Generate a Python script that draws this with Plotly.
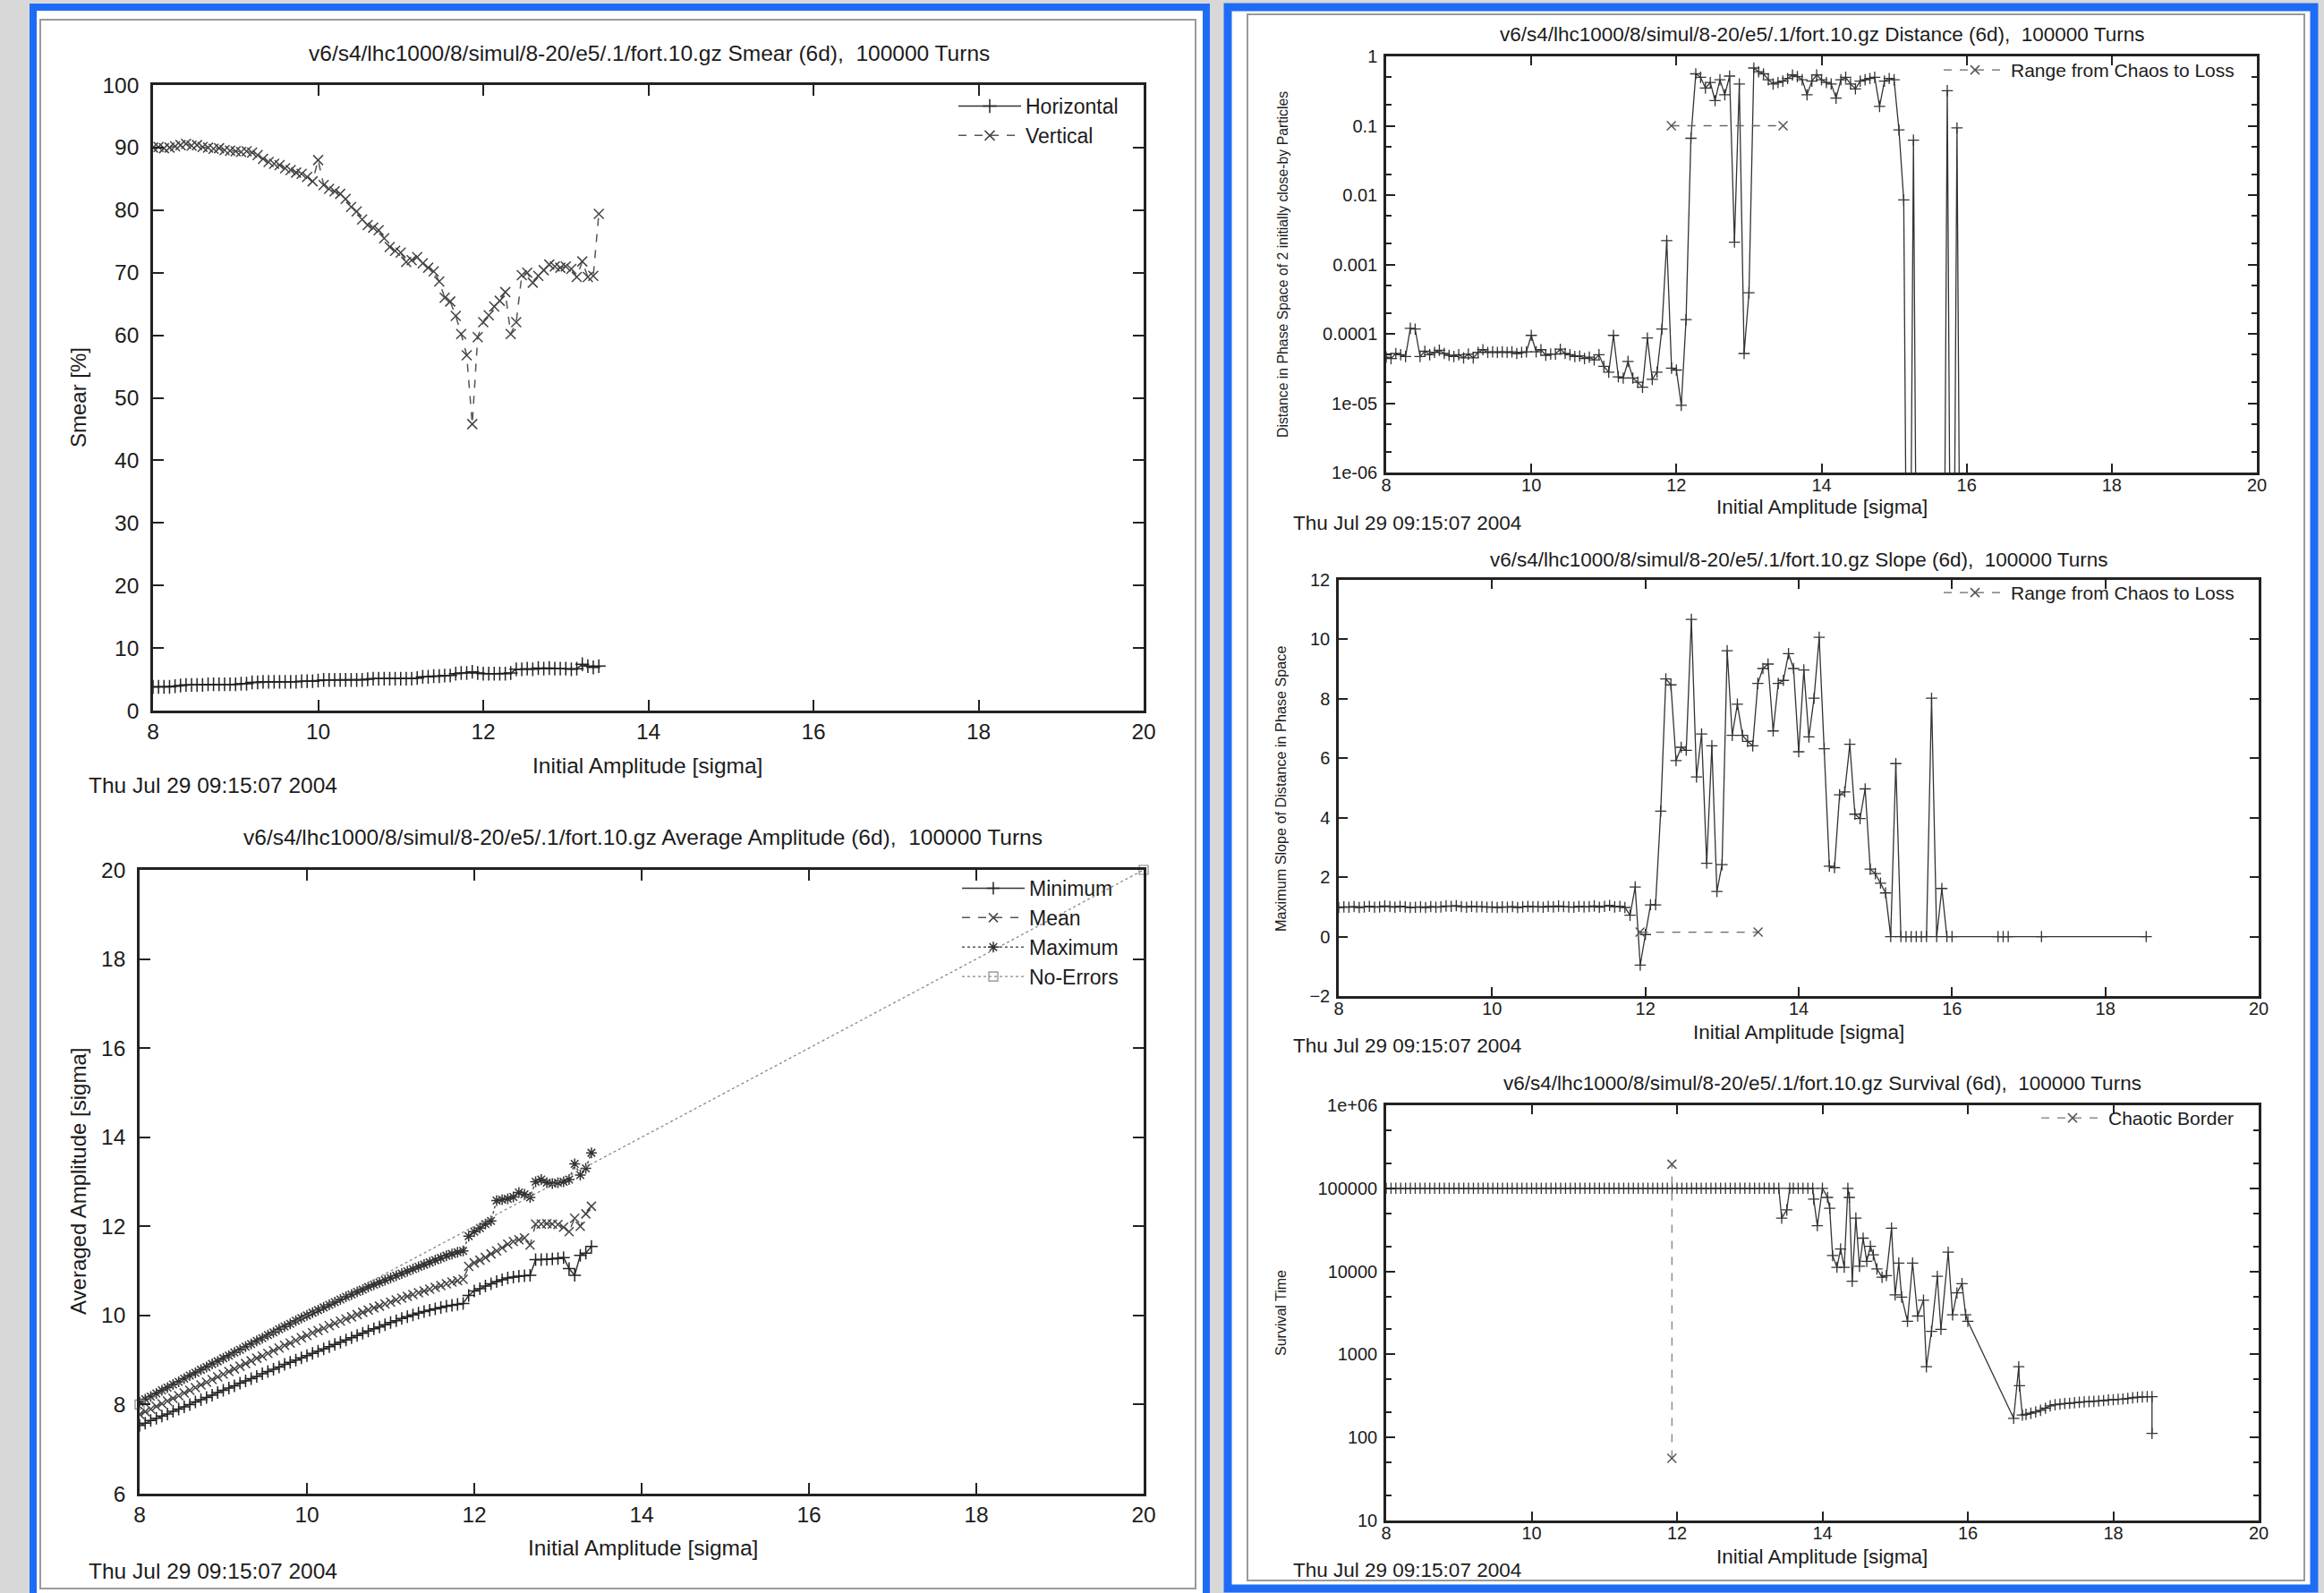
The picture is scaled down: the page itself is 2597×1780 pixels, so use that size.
import plotly.graph_objects as go

W, H = 2597, 1780
FONT = "Liberation Sans, Arial, sans-serif"
INK = "#1c1c1c"
BLUE = "#1e6cf5"

# ---------------- data ----------------
AMP = [8.0, 8.067, 8.133, 8.2, 8.267, 8.333, 8.4, 8.467, 8.533, 8.6, 8.667, 8.733, 8.8, 8.867, 8.933,
       9.0, 9.067, 9.133, 9.2, 9.267, 9.333, 9.4, 9.467, 9.533, 9.6, 9.667, 9.733, 9.8, 9.867, 9.933,
       10.0, 10.067, 10.133, 10.2, 10.267, 10.333, 10.4, 10.467, 10.533, 10.6, 10.667, 10.733, 10.8, 10.867, 10.933,
       11.0, 11.067, 11.133, 11.2, 11.267, 11.333, 11.4, 11.467, 11.533, 11.6, 11.667, 11.733, 11.8, 11.867, 11.933,
       12.0, 12.067, 12.133, 12.2, 12.267, 12.333, 12.4, 12.467, 12.533, 12.6, 12.667, 12.733, 12.8, 12.867, 12.933,
       13.0, 13.067, 13.133, 13.2, 13.267, 13.333, 13.4, 13.467, 13.533, 13.6, 13.667, 13.733, 13.8, 13.867, 13.933,
       14.0, 14.067, 14.133, 14.2, 14.267, 14.333, 14.4, 14.467, 14.533, 14.6, 14.667, 14.733, 14.8, 14.867, 14.933,
       15.0, 15.067, 15.133, 15.2, 15.267, 15.333, 15.4, 15.467, 15.533, 15.6, 15.667, 15.733, 15.8, 15.867, 15.933,
       16.0]

SMEAR_H = [3.8, 3.8, 3.8, 3.8, 3.9, 4.0,
           4.1, 4.1, 4.1, 4.1, 4.2, 4.2, 4.2, 4.2, 4.2, 4.2, 4.3, 4.3,
           4.5, 4.5, 4.6, 4.6, 4.6, 4.6, 4.6, 4.6, 4.6, 4.7, 4.7, 4.7,
           4.8, 4.9, 4.9, 4.9, 4.9, 4.9, 4.9, 4.9, 4.9, 5.0,
           5.1, 5.1, 5.1, 5.1, 5.1, 5.1, 5.1, 5.1, 5.2,
           5.4, 5.4, 5.5, 5.5, 5.6, 5.6,
           5.9, 6.0, 6.0, 6.2, 6.0,
           5.9, 5.9, 5.9, 5.9, 5.9, 6.0,
           6.6, 6.6, 6.7, 6.6, 6.8, 6.7, 6.8, 6.7, 6.7,
           6.7, 6.6, 6.7, 7.4, 7.1, 6.9, 7.1]
SMEAR_V = [90.0, 90.1, 89.9, 90.0, 90.2, 90.4, 90.6, 90.3, 90.4, 90.1,
           90.0, 89.8, 89.9, 89.6, 89.5, 89.4, 89.3, 89.4, 89.2, 88.8,
           88.2, 87.7, 87.4, 87.2, 86.7, 86.4, 86.0, 85.8, 85.3, 84.6,
           88.0, 84.0, 83.4, 83.0, 82.6, 81.8, 80.5, 79.8, 78.5, 77.6,
           77.2, 76.8, 75.5, 74.1, 73.5, 73.2, 71.7, 72.0, 72.5, 71.5,
           70.8, 70.2, 68.6, 66.0, 65.4, 63.1, 60.2, 56.8, 45.8, 59.7,
           62.1, 63.2, 64.6, 65.5, 66.9, 60.2, 62.1, 69.6, 70.0, 68.4,
           69.5, 70.4, 71.3, 71.0, 70.8, 71.0, 70.6, 69.3, 71.8, 69.3,
           69.5, 79.4]

AVG_MIN = [7.53, 7.58, 7.64, 7.69, 7.74, 7.79, 7.85, 7.90, 7.95, 8.00, 8.06, 8.11, 8.16, 8.21, 8.27,
           8.32, 8.37, 8.42, 8.48, 8.53, 8.58, 8.63, 8.69, 8.74, 8.79, 8.84, 8.90, 8.95, 9.00, 9.05,
           9.10, 9.15, 9.20, 9.25, 9.30, 9.35, 9.40, 9.45, 9.50, 9.55, 9.60, 9.65, 9.70, 9.74, 9.79,
           9.84, 9.88, 9.93, 9.97, 10.01, 10.05, 10.09, 10.12, 10.15, 10.18, 10.21, 10.23, 10.25, 10.27, 10.45,
           10.55, 10.60, 10.66, 10.71, 10.76, 10.80, 10.84, 10.86, 10.88, 10.89, 10.90, 11.25, 11.25, 11.26, 11.27,
           11.28, 11.30, 11.05, 10.90, 11.35, 11.40, 11.55]
AVG_MEAN = [7.78, 7.84, 7.90, 7.96, 8.02, 8.08, 8.14, 8.20, 8.26, 8.32, 8.38, 8.44, 8.50, 8.56, 8.62,
            8.68, 8.74, 8.80, 8.86, 8.92, 8.98, 9.04, 9.09, 9.15, 9.21, 9.27, 9.33, 9.38, 9.44, 9.50,
            9.55, 9.61, 9.66, 9.71, 9.77, 9.82, 9.87, 9.92, 9.97, 10.02, 10.07, 10.12, 10.17, 10.21, 10.26,
            10.30, 10.35, 10.39, 10.43, 10.47, 10.51, 10.55, 10.59, 10.63, 10.67, 10.71, 10.75, 10.78, 10.81, 11.10,
            11.18, 11.24, 11.30, 11.38, 11.45, 11.52, 11.60, 11.66, 11.70, 11.74, 11.58, 12.05, 12.05, 12.06, 12.05,
            12.04, 11.98, 11.88, 12.18, 12.00, 12.28, 12.45]
AVG_MAX = [8.05, 8.12, 8.18, 8.25, 8.32, 8.38, 8.45, 8.51, 8.58, 8.65, 8.71, 8.78, 8.84, 8.91, 8.97,
           9.04, 9.10, 9.17, 9.23, 9.30, 9.36, 9.43, 9.49, 9.56, 9.62, 9.69, 9.75, 9.81, 9.88, 9.94,
           10.00, 10.06, 10.12, 10.18, 10.24, 10.30, 10.36, 10.42, 10.47, 10.53, 10.58, 10.64, 10.69, 10.74, 10.79,
           10.84, 10.89, 10.94, 10.99, 11.04, 11.09, 11.14, 11.19, 11.24, 11.29, 11.34, 11.38, 11.42, 11.45, 11.78,
           11.88, 11.96, 12.05, 12.12, 12.58, 12.60, 12.62, 12.66, 12.76, 12.72, 12.65, 13.00, 13.05, 12.98, 12.96,
           12.98, 13.00, 13.05, 13.40, 13.15, 13.30, 13.65]
NOERR_X = [8, 20]
NOERR_Y = [8, 20]

TINY = 1e-12
DIST = [4.6e-5, 4.4e-5, 5.2e-5, 5.0e-5, 4.7e-5, 1.2e-4, 1.17e-4, 4.7e-5, 5.6e-5, 5.0e-5,
        5.4e-5, 5.8e-5, 5.2e-5, 4.9e-5, 4.7e-5, 5.0e-5, 4.5e-5, 5.1e-5, 4.5e-5, 5.4e-5,
        5.9e-5, 5.4e-5, 5.5e-5, 5.4e-5, 5.5e-5, 5.4e-5, 5.5e-5, 5.2e-5, 5.4e-5, 5.5e-5,
        9.5e-5, 5.5e-5, 5.9e-5, 4.9e-5, 5.1e-5, 5.1e-5, 6.0e-5, 5.2e-5, 5.0e-5, 4.7e-5,
        4.8e-5, 4.4e-5, 4.6e-5, 4.2e-5, 5.0e-5, 3.4e-5, 2.8e-5, 9.5e-5, 2.4e-5, 2.3e-5,
        4.0e-5, 2.3e-5, 2.0e-5, 1.7e-5, 8.7e-5, 2.2e-5, 2.8e-5, 1.17e-4, 2.2e-3, 3.2e-5,
        3.0e-5, 9.3e-6, 1.6e-4, 0.066, 0.56, 0.50, 0.35, 0.42, 0.23, 0.46,
        0.28, 0.52, 2.1e-3, 0.40, 5.2e-5, 3.9e-4, 0.68, 0.60, 0.56, 0.46,
        0.40, 0.42, 0.44, 0.48, 0.54, 0.51, 0.46, 0.28, 0.44, 0.54,
        0.46, 0.42, 0.40, 0.25, 0.46, 0.50, 0.40, 0.34, 0.44, 0.46,
        0.48, 0.50, 0.19, 0.44, 0.48, 0.46, 0.087, 0.0085, TINY, 0.062,
        TINY, TINY, TINY, TINY, TINY, TINY, 0.32, TINY, 0.093, TINY]
CHAOS_LOSS_X = [11.93, 13.47]
CHAOS_LOSS_DIST = [0.1, 0.1]

SLOPE = [0.98, 1.00, 0.99, 1.01, 0.98, 1.00, 1.02, 0.99, 1.00, 1.03,
         1.01, 0.99, 1.02, 1.00, 0.98, 0.99, 1.00, 0.98, 1.01, 0.99,
         1.00, 1.03, 1.02, 1.04, 1.01, 0.99, 1.02, 1.00, 1.01, 0.99,
         1.00, 0.98, 1.00, 0.99, 1.01, 0.98, 1.00, 1.02, 1.00, 1.01,
         0.99, 1.02, 1.00, 1.03, 1.01, 1.00, 0.99, 1.02, 1.00, 1.01,
         1.03, 0.99, 1.02, 1.05, 1.00, 1.02, 0.98, 0.72, 1.67, -0.96,
         0.07, 1.07, 1.07, 4.22, 8.67, 8.47, 5.92, 6.37, 6.27, 10.67,
         5.37, 6.82, 2.47, 6.42, 1.52, 2.42, 9.62, 6.77, 7.82, 6.77,
         6.57, 6.42, 8.52, 9.02, 9.17, 6.92, 8.52, 8.62, 9.52, 9.02,
         6.22, 8.97, 6.72, 8.02, 10.07, 6.32, 2.37, 2.32, 4.77, 4.87,
         6.47, 4.12, 3.97, 4.97, 2.27, 2.12, 1.80, 1.47, 0.0, 5.82,
         0.0, 0.0, 0.0, 0.0, 0.0, 0.0, 8.02, 0.0, 1.62, 0.0,
         0.0]
SLOPE_EXTRA_X = [16.6, 16.667, 16.733, 17.167, 18.533]
SLOPE_EXTRA = [0.0, 0.0, 0.0, 0.0, 0.0]
CHAOS_LOSS_SLOPE = [0.15, 0.15]

SURV_FLAT = [100000, 100000, 100000, 100000, 100000, 100000, 100000, 100000, 100000, 100000,
             100000, 100000, 100000, 100000, 100000, 100000, 100000, 100000, 100000, 100000,
             100000, 100000, 100000, 100000, 100000, 100000, 100000, 100000, 100000, 100000,
             100000, 100000, 100000, 100000, 100000, 100000, 100000, 100000, 100000, 100000,
             100000, 100000, 100000, 100000, 100000, 100000, 100000, 100000, 100000, 100000,
             100000, 100000, 100000, 100000, 100000, 100000, 100000, 100000, 100000, 100000,
             100000, 100000, 100000, 100000, 100000, 100000, 100000, 100000, 100000, 100000,
             100000, 100000, 100000, 100000, 100000, 100000, 100000, 100000, 100000, 100000,
             100000, 100000]
SURV_TAIL_X = [13.44, 13.51, 13.55, 13.6, 13.667, 13.733, 13.8, 13.867, 13.88, 13.93,
               14.0, 14.07, 14.10, 14.14, 14.20, 14.25, 14.30, 14.35, 14.37, 14.41,
               14.46, 14.51, 14.56, 14.61, 14.66, 14.70, 14.75, 14.82, 14.88, 14.95,
               15.00, 15.05, 15.09, 15.17, 15.24, 15.31, 15.39, 15.43, 15.50, 15.58,
               15.63, 15.73, 15.79, 15.85, 15.92, 15.97, 16.00, 16.63, 16.70, 16.71,
               16.75, 16.8, 16.867, 16.933, 17.0, 17.067, 17.133, 17.2, 17.267, 17.333,
               17.4, 17.467, 17.533, 17.6, 17.667, 17.733, 17.8, 17.867, 17.933, 18.0,
               18.067, 18.133, 18.2, 18.267, 18.333, 18.4, 18.467, 18.533, 18.533]
SURV_TAIL = [43700, 55000, 100000, 100000, 100000, 100000, 100000, 100000, 74000, 35500,
             100000, 77600, 57500, 15500, 11200, 18600, 11200, 100000, 77600, 7600,
             43700, 11500, 25100, 13200, 20000, 15800, 10700, 8500, 8900, 33100,
             5200, 12600, 4900, 2500, 12600, 2900, 4500, 710, 1900, 8700,
             2000, 17000, 3000, 5500, 7100, 3000, 2500, 170, 710, 420,
             186, 190, 196, 203, 212, 225, 240, 248, 252, 256,
             258, 262, 265, 268, 270, 272, 275, 278, 282, 285,
             288, 290, 295, 300, 305, 308, 310, 310, 112]
CHAOTIC_BORDER_X = [11.93, 11.93]
CHAOTIC_BORDER_Y = [56, 195000]

X_TICKS = [8, 10, 12, 14, 16, 18, 20]
DIST_TICKS = [1e-6, 1e-5, 1e-4, 1e-3, 1e-2, 1e-1, 1]
DIST_LABELS = ["1e-06", "1e-05", "0.0001", "0.001", "0.01", "0.1", "1"]
SURV_TICKS = [10, 100, 1000, 10000, 100000, 1000000]
SURV_LABELS = ["10", "100", "1000", "10000", "100000", "1e+06"]

RUN = "v6/s4/lhc1000/8/simul/8-20/e5/.1/fort.10.gz"
TURNS = ",\u00a0 100000 Turns"
DATE = "Thu Jul 29 09:15:07 2004"
XLAB = "Initial Amplitude [sigma]"

# ---------------- helpers ----------------
def fx(px):
    return px / W


def fy(py):
    return 1 - py / H


def mk(symbol, size, color="#222", lw=1.5):
    return dict(symbol=symbol, size=size, color=color, line=dict(width=lw, color=color))


fig = go.Figure()

# Smear
fig.add_trace(go.Scatter(x=AMP[:len(SMEAR_H)], y=SMEAR_H, mode="lines+markers", name="Horizontal",
                         line=dict(color="#333", width=1.5), marker=mk("cross-thin", 11),
                         xaxis="x", yaxis="y", legend="legend"))
fig.add_trace(go.Scatter(x=AMP[:len(SMEAR_V)], y=SMEAR_V, mode="lines+markers", name="Vertical",
                         line=dict(color="#555", width=1.5, dash="dash"), marker=mk("x-thin", 11, "#444"),
                         xaxis="x", yaxis="y", legend="legend"))

# Average amplitude
fig.add_trace(go.Scatter(x=AMP[:len(AVG_MIN)], y=AVG_MIN, mode="lines+markers", name="Minimum",
                         line=dict(color="#333", width=1.5), marker=mk("cross-thin", 10),
                         xaxis="x2", yaxis="y2", legend="legend2"))
fig.add_trace(go.Scatter(x=AMP[:len(AVG_MEAN)], y=AVG_MEAN, mode="lines+markers", name="Mean",
                         line=dict(color="#555", width=1.5, dash="dash"), marker=mk("x-thin", 10, "#444"),
                         xaxis="x2", yaxis="y2", legend="legend2"))
fig.add_trace(go.Scatter(x=AMP[:len(AVG_MAX)], y=AVG_MAX, mode="lines+markers", name="Maximum",
                         line=dict(color="#555", width=1.5, dash="dot"), marker=mk("asterisk", 10, "#333"),
                         xaxis="x2", yaxis="y2", legend="legend2"))
fig.add_trace(go.Scatter(x=NOERR_X, y=NOERR_Y, mode="lines+markers", name="No-Errors",
                         line=dict(color="#888", width=1.3, dash="dot"), marker=mk("square-open", 10, "#888", 1.2),
                         cliponaxis=False, xaxis="x2", yaxis="y2", legend="legend2"))

# Distance
fig.add_trace(go.Scatter(x=AMP[:len(DIST)], y=DIST, mode="lines+markers", showlegend=False,
                         line=dict(color="#333", width=1.3), marker=mk("cross-thin", 9, "#333", 1.3),
                         xaxis="x3", yaxis="y3"))
fig.add_trace(go.Scatter(x=CHAOS_LOSS_X, y=CHAOS_LOSS_DIST, mode="lines+markers", name="Range from Chaos to Loss",
                         line=dict(color="#666", width=1.3, dash="dash"), marker=mk("x-thin", 10, "#555"),
                         xaxis="x3", yaxis="y3", legend="legend3"))

# Slope
fig.add_trace(go.Scatter(x=AMP + SLOPE_EXTRA_X, y=SLOPE + SLOPE_EXTRA, mode="lines+markers", showlegend=False,
                         line=dict(color="#333", width=1.3), marker=mk("cross-thin", 9, "#333", 1.3),
                         xaxis="x4", yaxis="y4"))
fig.add_trace(go.Scatter(x=CHAOS_LOSS_X, y=CHAOS_LOSS_SLOPE, mode="lines+markers", name="Range from Chaos to Loss",
                         line=dict(color="#666", width=1.3, dash="dash"), marker=mk("x-thin", 10, "#555"),
                         xaxis="x4", yaxis="y4", legend="legend4"))

# Survival
fig.add_trace(go.Scatter(x=AMP[:len(SURV_FLAT)] + SURV_TAIL_X, y=SURV_FLAT + SURV_TAIL, mode="lines+markers",
                         showlegend=False, line=dict(color="#333", width=1.3),
                         marker=mk("cross-thin", 9, "#333", 1.3), xaxis="x5", yaxis="y5"))
fig.add_trace(go.Scatter(x=CHAOTIC_BORDER_X, y=CHAOTIC_BORDER_Y, mode="lines+markers", name="Chaotic Border",
                         line=dict(color="#777", width=1.2, dash="dash"), marker=mk("x-thin", 10, "#555"),
                         xaxis="x5", yaxis="y5", legend="legend5"))

# ---------------- layout ----------------
PLOTS = {  # left, top, right, bottom in pixels
    1: (171, 95, 1278, 794),
    2: (156, 972, 1278, 1669),
    3: (1549, 63, 2522, 528),
    4: (1496, 648, 2524, 1113),
    5: (1549, 1235, 2524, 1699),
}


def axis(size, ticklen, standoff, **kw):
    d = dict(showline=True, linecolor="#222", linewidth=2.5, mirror="allticks", ticks="inside",
             ticklen=ticklen, tickwidth=2, tickcolor="#222", showgrid=False, zeroline=False,
             automargin=False, ticklabelstandoff=standoff,
             tickfont=dict(family=FONT, size=size, color=INK))
    d.update(kw)
    return d


layout = dict(width=W, height=H, margin=dict(l=0, r=0, t=0, b=0), autosize=False,
              template="none", paper_bgcolor="#d8d8d8", plot_bgcolor="white",
              font=dict(family=FONT, color=INK))

for i, (l, t, r, b) in PLOTS.items():
    xs = "xaxis" if i == 1 else f"xaxis{i}"
    ys = "yaxis" if i == 1 else f"yaxis{i}"
    xa = "x" if i == 1 else f"x{i}"
    ya = "y" if i == 1 else f"y{i}"
    left = i <= 2
    size = 24.5 if left else 20
    tl = 12 if left else 10
    layout[xs] = axis(size, tl, 0 if left else -6, domain=[fx(l), fx(r)], anchor=ya, range=[8, 20],
                      tickmode="array", tickvals=X_TICKS)
    layout[ys] = axis(size, tl, 8 if left else 3, domain=[fy(b), fy(t)], anchor=xa)

layout["yaxis"].update(range=[0, 100], dtick=10, tick0=0)
layout["yaxis2"].update(range=[6, 20], dtick=2, tick0=6)
layout["yaxis4"].update(range=[-2, 12], dtick=2, tick0=-2)
MINOR_DIST = [m * 10 ** e for e in range(-6, 0) for m in (2, 5)]
MINOR_SURV = [m * 10 ** e for e in range(1, 6) for m in (2, 5)]
layout["yaxis3"].update(type="log", range=[-6, 0], tickmode="array", tickvals=DIST_TICKS, ticktext=DIST_LABELS,
                        minor=dict(ticks="inside", ticklen=6, tickwidth=1.5, tickcolor="#222",
                                   tickmode="array", tickvals=MINOR_DIST))
layout["yaxis5"].update(type="log", range=[1, 6], tickmode="array", tickvals=SURV_TICKS, ticktext=SURV_LABELS,
                        minor=dict(ticks="inside", ticklen=6, tickwidth=1.5, tickcolor="#222",
                                   tickmode="array", tickvals=MINOR_SURV))


def legend(right, top, size):
    return dict(x=fx(right), y=fy(top), xanchor="right", yanchor="top", bgcolor="rgba(0,0,0,0)",
                borderwidth=0, itemwidth=70, font=dict(family=FONT, size=size, color=INK))


layout["legend"] = legend(1255, 97, 23)
layout["legend2"] = legend(1255, 971, 23)
layout["legend3"] = legend(2502, 58, 21)
layout["legend4"] = legend(2502, 642, 21)
layout["legend5"] = legend(2502, 1229, 21)

layout["shapes"] = [
    dict(type="rect", xref="paper", yref="paper", x0=fx(37), x1=fx(1348), y0=fy(1810), y1=fy(8),
         line=dict(color=BLUE, width=8), fillcolor="white", layer="below"),
    dict(type="rect", xref="paper", yref="paper", x0=fx(45), x1=fx(1336), y0=fy(1775), y1=fy(22),
         line=dict(color="#9a9a9a", width=2), fillcolor="rgba(0,0,0,0)", layer="below"),
    dict(type="rect", xref="paper", yref="paper", x0=fx(1372), x1=fx(2586), y0=fy(1775), y1=fy(8),
         line=dict(color=BLUE, width=9), fillcolor="white", layer="below"),
    dict(type="rect", xref="paper", yref="paper", x0=fx(1394), x1=fx(2575), y0=fy(1766), y1=fy(16),
         line=dict(color="#9a9a9a", width=2), fillcolor="rgba(0,0,0,0)", layer="below"),
]


def ann(text, x, y, size, xanchor="center", angle=0):
    return dict(text=text, x=fx(x), y=fy(y), xref="paper", yref="paper", showarrow=False,
                xanchor=xanchor, yanchor="middle", textangle=angle,
                font=dict(family=FONT, size=size, color=INK))


LS = 24.5   # left panel text size
RS = 22.5   # right panel text size
layout["annotations"] = [
    ann(RUN + " Smear (6d)" + TURNS, 725, 60, LS),
    ann(XLAB, 724, 855, LS),
    ann("Smear [%]", 87, 444, 24, angle=-90),
    ann(DATE, 97, 877, LS, xanchor="left"),

    ann(RUN + " Average Amplitude (6d)" + TURNS, 718, 935, LS),
    ann(XLAB, 718, 1729, LS),
    ann("Averaged Amplitude [sigma]", 87, 1320, 24, angle=-90),
    ann(DATE, 97, 1755, LS, xanchor="left"),

    ann(RUN + " Distance (6d)" + TURNS, 2036, 39, RS),
    ann(XLAB, 2036, 566, RS),
    ann("Distance in Phase Space of 2 initially close-by Particles", 1433, 296, 15.8, angle=-90),
    ann(DATE, 1443, 584, RS, xanchor="left"),

    ann(RUN + " Slope (6d)" + TURNS, 2010, 625, RS),
    ann(XLAB, 2010, 1153, RS),
    ann("Maximum Slope of Distance in Phase Space", 1431, 881, 16.2, angle=-90),
    ann(DATE, 1443, 1168, RS, xanchor="left"),

    ann(RUN + " Survival (6d)" + TURNS, 2036, 1210, RS),
    ann(XLAB, 2036, 1739, RS),
    ann("Survival Time", 1431, 1467, 16, angle=-90),
    ann(DATE, 1443, 1754, RS, xanchor="left"),
]

fig.update_layout(**layout)
fig.write_html("out.html", config={"displayModeBar": False},
               post_script="document.body.style.margin='0px';document.body.style.padding='0px';"
                           "document.documentElement.style.overflow='hidden';")
